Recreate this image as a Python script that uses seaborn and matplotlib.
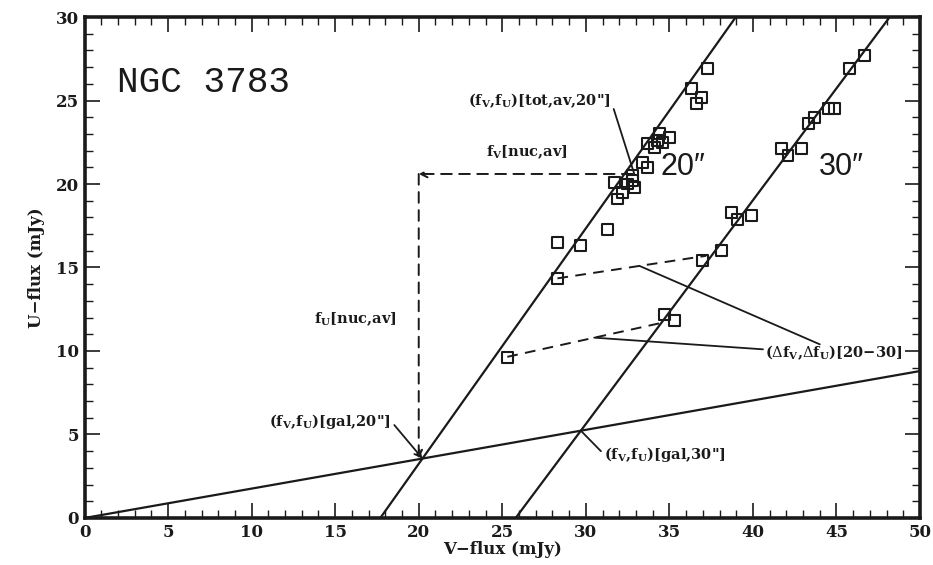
import numpy as np
import pandas as pd
import matplotlib.pyplot as plt
import seaborn as sns

# ==============================
# DATA
# ==============================

# 20" aperture photometry points
v_20 = [25.3, 28.3, 28.3, 29.7, 31.3, 31.9, 32.2, 32.5, 31.7, 32.9, 32.8, 32.8,
        33.4, 33.7, 33.7, 34.1, 34.3, 34.6, 34.4, 35.0, 36.3, 36.6, 36.9, 37.3]
u_20 = [9.6, 14.35, 16.5, 16.3, 17.3, 19.1, 19.5, 20.0, 20.1, 19.8, 20.2, 20.5,
        21.3, 21.0, 22.4, 22.2, 22.6, 22.5, 23.0, 22.8, 25.7, 24.8, 25.2, 26.9]

# 30" aperture photometry points
v_30 = [34.7, 35.3, 37.0, 38.1, 38.7, 39.1, 39.9, 41.7, 42.1, 42.9, 43.3, 43.7,
        44.5, 44.9, 45.8, 46.7]
u_30 = [12.2, 11.8, 15.4, 16.0, 18.3, 17.9, 18.1, 22.1, 21.7, 22.1, 23.6, 24.0,
        24.5, 24.5, 26.9, 27.7]

# fitted lines: galaxy colour (through origin) and the two aperture lines
gal_slope = 0.176
ap_names = ['20', '30']
ap_slopes = [1.41, 1.34]
ap_v0 = [17.7, 25.8]          # V-flux where U-flux = 0

# averaged total flux point for the 20" aperture
tot_v, tot_u = 32.8, 20.6

# 20-30 difference vectors (start, end)
diff_lo = ([25.3, 34.6], [9.65, 11.7])
diff_hi = ([28.3, 37.2], [14.35, 15.7])

x_ticks = np.arange(0, 51, 5)
y_ticks = np.arange(0, 31, 5)

# ==============================
# STYLE
# ==============================

sns.set_theme(style='ticks', rc={'text.color': 'k', 'axes.labelcolor': 'k',
                                 'xtick.color': 'k', 'ytick.color': 'k',
                                 'axes.edgecolor': 'k'})
plt.rcParams['font.family'] = ['DejaVu Serif']
plt.rcParams['mathtext.fontset'] = 'dejavuserif'

fig = plt.figure(figsize=(9.33, 5.65), dpi=100)
ax = fig.add_axes([0.0906, 0.0832, 0.8955, 0.8867])

# ==============================
# LINES
# ==============================

gal_df = pd.DataFrame({'v': [0, 50], 'u': [0, 50 * gal_slope]})
sns.lineplot(data=gal_df, x='v', y='u', ax=ax, color='k', lw=1.6, sort=False)

cross = []
for s, v0 in zip(ap_slopes, ap_v0):
    df = pd.DataFrame({'v': [v0, v0 + 30 / s], 'u': [0, 30]})
    sns.lineplot(data=df, x='v', y='u', ax=ax, color='k', lw=1.6, sort=False)
    xc = s * v0 / (s - gal_slope)
    cross.append((xc, gal_slope * xc))

# ==============================
# POINTS
# ==============================

pts = pd.DataFrame({'v': v_20 + v_30, 'u': u_20 + u_30})
sns.scatterplot(data=pts, x='v', y='u', ax=ax, marker='s', s=62,
                facecolor='none', edgecolor='k', linewidth=1.5, zorder=5)

# ==============================
# DASHED CONSTRUCTION
# ==============================

dash = (0, (5.5, 3.8))
ax.plot(*diff_lo, color='k', lw=1.4, ls=dash)
ax.plot(*diff_hi, color='k', lw=1.4, ls=dash)

gx, gy = cross[0]
ax.annotate('', xy=(round(gx), tot_u), xytext=(tot_v, tot_u),
            arrowprops=dict(arrowstyle='->', lw=1.4, ls=dash, color='k',
                            shrinkA=0, shrinkB=0, mutation_scale=12))
ax.annotate('', xy=(round(gx), gy), xytext=(round(gx), tot_u),
            arrowprops=dict(arrowstyle='->', lw=1.4, ls=dash, color='k',
                            shrinkA=0, shrinkB=0, mutation_scale=12))

# ==============================
# LABELS
# ==============================

fs = 10.5
bold = dict(fontsize=fs, fontweight='bold', color='k')
FV = r'f$_\mathbf{V}$'
FU = r'f$_\mathbf{U}$'

ax.text(7.1, 26.1, 'NGC 3783', family='Liberation Mono', fontsize=26,
        ha='center', va='center', color='k')
ax.text(35.8, 21.0, '20\u2033', family='Liberation Sans', fontsize=22,
        ha='center', va='center', color='k')
ax.text(45.3, 21.0, '30\u2033', family='Liberation Sans', fontsize=22,
        ha='center', va='center', color='k')

ax.annotate('(' + FV + ',' + FU + ')[tot,av,20"]', xy=(tot_v + 0.1, tot_u),
            xytext=(27.2, 25.0), ha='center', va='center', **bold,
            arrowprops=dict(arrowstyle='-', lw=1.3, color='k', shrinkA=0,
                            shrinkB=0, relpos=(1.0, 0.6)))
ax.text(26.5, 21.9, FV + '[nuc,av]', ha='center', va='center', **bold)
ax.text(16.2, 11.9, FU + '[nuc,av]', ha='center', va='center', **bold)

ax.annotate('(' + FV + ',' + FU + ')[gal,20"]', xy=cross[0],
            xytext=(14.7, 5.8), ha='center', va='center', **bold,
            arrowprops=dict(arrowstyle='->', lw=1.3, color='k', shrinkA=0,
                            shrinkB=0, relpos=(1.0, 0.5), mutation_scale=12))
ax.annotate('(' + FV + ',' + FU + ')[gal,30"]', xy=cross[1],
            xytext=(31.1, 3.8), ha='left', va='center', **bold,
            arrowprops=dict(arrowstyle='-', lw=1.3, color='k', shrinkA=0,
                            shrinkB=0, relpos=(0.0, 0.5)))

ax.text(40.7, 9.9, r'($\Delta$' + FV + r',$\Delta$' + FU + ')[20\u221230]',
        ha='left', va='center', **bold)
ax.annotate('', xy=(33.2, 15.1), xytext=(44.0, 10.4),
            arrowprops=dict(arrowstyle='-', lw=1.3, color='k', shrinkA=0, shrinkB=0))
ax.annotate('', xy=(30.5, 10.8), xytext=(40.6, 10.1),
            arrowprops=dict(arrowstyle='-', lw=1.3, color='k', shrinkA=0, shrinkB=0))

# ==============================
# AXES
# ==============================

ax.set_xlim(0, 50)
ax.set_ylim(0, 30)
ax.set_xticks(x_ticks)
ax.set_yticks(y_ticks)
ax.set_xticks(np.arange(0, 51, 1), minor=True)
ax.set_yticks(np.arange(0, 31, 1), minor=True)
ax.tick_params(which='both', direction='in', top=True, right=True, color='k')
ax.tick_params(which='major', length=11, width=1.2, pad=4, labelsize=12)
ax.tick_params(which='minor', length=6, width=1.0)
for lab in ax.get_xticklabels() + ax.get_yticklabels():
    lab.set_fontweight('bold')
for sp in ax.spines.values():
    sp.set_linewidth(2.6)
    sp.set_color('k')

ax.set_xlabel('V\u2212flux (mJy)', fontsize=12, fontweight='bold', labelpad=0)
ax.set_ylabel('U\u2212flux (mJy)', fontsize=12, fontweight='bold', labelpad=8)

fig.savefig('out.png', dpi=100)
